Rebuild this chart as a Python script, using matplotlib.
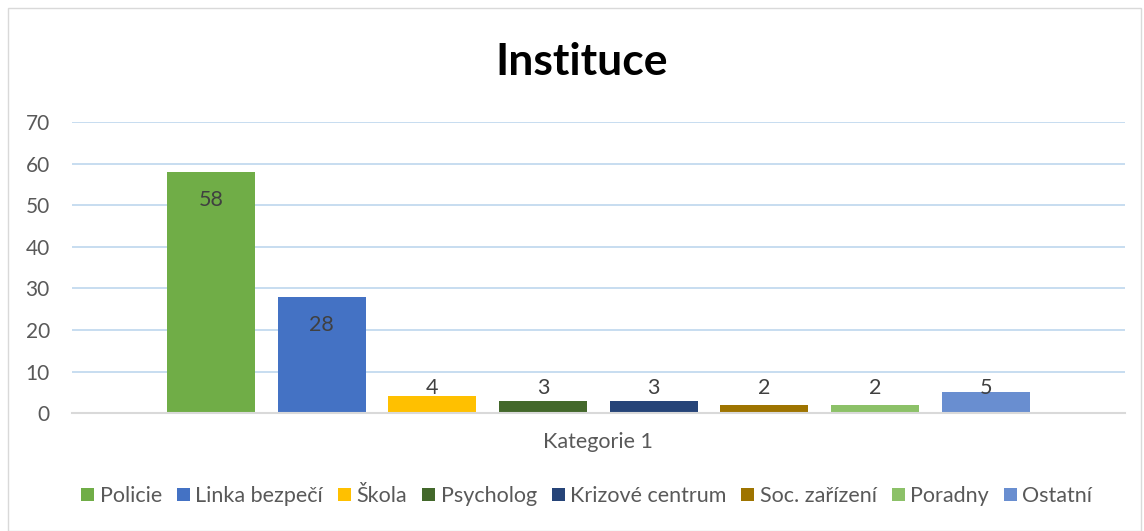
import matplotlib
matplotlib.use("Agg")
import matplotlib.pyplot as plt
from matplotlib.patches import Rectangle, Patch

series = ["Policie", "Linka bezpečí", "Škola", "Psycholog", "Krizové centrum",
          "Soc. zařízení", "Poradny", "Ostatní"]
values = [58, 28, 4, 3, 3, 2, 2, 5]
colors = ["#70AD47", "#4472C4", "#FFC000", "#43682B", "#264478",
          "#9E7400", "#8CC168", "#698ED0"]
category = "Kategorie 1"
title = "Instituce"
yticks = [0, 10, 20, 30, 40, 50, 60, 70]

plt.rcParams['font.family'] = ['Lato', 'DejaVu Sans']
txt = "#595959"

fig = plt.figure(figsize=(11.44, 5.31), dpi=100)
ax = fig.add_axes([0.063, 0.222, 0.920, 0.548])

for i, (v, c, s) in enumerate(zip(values, colors, series)):
    ax.bar(i, v, width=0.795, color=c, label=s, zorder=3)
    ax.text(i, max(v - 6.8, 6.0), str(v), ha="center", va="center",
            fontsize=15.5, color="#404040", zorder=4)

ax.set_xlim(-1.256, len(values) - 1 + 1.256)
ax.set_ylim(0, 70)
ax.set_yticks(yticks)
ax.tick_params(axis="y", length=0, labelsize=15, labelcolor=txt, pad=16)
ax.set_xticks([])
ax.grid(axis="y", color="#BDD7EE", linewidth=1.2, zorder=0)
for sp in ["top", "right", "left"]:
    ax.spines[sp].set_visible(False)
ax.spines["bottom"].set_color("#D9D9D9")
ax.spines["bottom"].set_linewidth(1.5)
ax.spines["bottom"].set_zorder(5)

fig.text(0.523, 1 - 442 / 531, category, ha="center", va="center",
         fontsize=15.5, color=txt)
fig.text(0.508, 1 - 62 / 531, title, ha="center", va="center",
         fontsize=32, fontweight="bold", color="black")

handles = [Patch(facecolor=c, edgecolor="none") for c in colors]
fig.legend(handles, series, loc="center", bbox_to_anchor=(0.513, 1 - 496 / 531),
           ncol=len(series), frameon=False, fontsize=15.5, labelcolor=txt,
           handlelength=0.6, handleheight=0.6, handletextpad=0.25,
           columnspacing=0.7)

fig.add_artist(Rectangle((0.007, 0.0), 0.99, 0.985, transform=fig.transFigure,
                         fill=False, edgecolor="#D9D9D9", linewidth=1))

fig.savefig("out.png", dpi=100)
